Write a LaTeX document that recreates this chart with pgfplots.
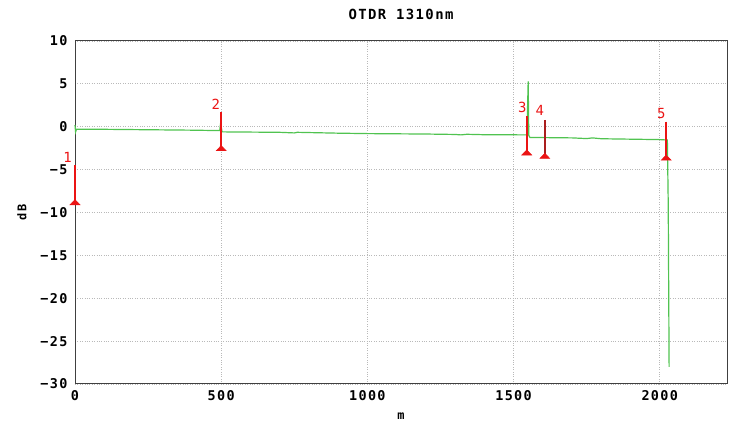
\documentclass[border=0pt]{standalone}
\usepackage{fontspec}
\setmainfont{DejaVu Sans Mono}[LetterSpace=10]
\usepackage{pgfplots}
\pgfplotsset{compat=1.18}
\definecolor{trace}{RGB}{80,195,80}
\definecolor{mk}{RGB}{235,20,20}
\definecolor{mkd}{RGB}{170,30,30}
\begin{document}
\begin{tikzpicture}
\begin{axis}[name=ax, scale only axis, width=652bp, height=343bp,
  xmin=0, xmax=2230, ymin=-30, ymax=10,
  xtick={0,500,1000,1500,2000}, ytick={-30,-25,...,10},
  yticklabels={−30,−25,−20,−15,−10,−5,0,5,10},
  /pgf/number format/assume math mode=true,
  /pgf/number format/1000 sep={},
  grid=major, grid style={gray!55, dotted, line width=0.9pt},
  axis line style={black!75, line width=1pt},
  major tick length=0pt,
  tick label style={font=\fontsize{13.5}{13.5}\selectfont\bfseries},
  xticklabel style={yshift=-3bp},
  yticklabel style={xshift=-4bp},
  title={OTDR 1310nm},
  title style={at={(0.5,1)}, anchor=center, yshift=21bp, font=\fontsize{14}{14}\selectfont\bfseries},
  xlabel={m}, ylabel={dB},
  xlabel style={at={(0.5,0)}, anchor=center, yshift=-32bp, font=\fontsize{12}{12}\selectfont\bfseries},
  ylabel style={at={(0,0.5)}, anchor=center, yshift=53bp, font=\fontsize{12}{12}\selectfont\bfseries},
  clip=false,
]
% trace
\addplot[trace, line width=1.2pt, mark=none] coordinates {
(0,0.2) (2,-0.6) (5,-0.3) (100,-0.3) (250,-0.35) (400,-0.4) (495,-0.45)
(498,0.4) (503,-0.6) (510,-0.6) (700,-0.65) (750,-0.72) (760,-0.65) (900,-0.75)
(1000,-0.8) (1200,-0.85) (1300,-0.9) (1320,-0.95) (1340,-0.88) (1400,-0.93) (1545,-0.95)
(1547,1.0) (1550,5.3) (1552,-1.0) (1556,-1.25) (1700,-1.3) (1750,-1.38) (1770,-1.3) (1800,-1.4)
(2000,-1.5) (2026,-1.55) (2029,-9) (2032,-28)
};
% markers
\addplot[mk, line width=1.8pt] coordinates {(0,-4.5) (0,-8.8)};
\addplot[mk, fill=mk, line width=0.5pt] coordinates {(-17,-9.1) (0,-8.5) (17,-9.1)} -- cycle;
\addplot[mk, line width=1.8pt] coordinates {(500,1.7) (500,-2.5)};
\addplot[mk, fill=mk, line width=0.5pt] coordinates {(483,-2.8) (500,-2.2) (517,-2.8)} -- cycle;
\addplot[mk, line width=1.8pt] coordinates {(1545,1.2) (1545,-3.0)};
\addplot[mk, fill=mk, line width=0.5pt] coordinates {(1528,-3.3) (1545,-2.7) (1562,-3.3)} -- cycle;
\addplot[mkd, line width=1.8pt] coordinates {(1607,0.8) (1607,-3.4)};
\addplot[mk, fill=mk, line width=0.5pt] coordinates {(1590,-3.7) (1607,-3.1) (1624,-3.7)} -- cycle;
\addplot[mk, line width=1.8pt] coordinates {(2022,0.6) (2022,-3.6)};
\addplot[mk, fill=mk, line width=0.5pt] coordinates {(2005,-3.9) (2022,-3.3) (2039,-3.9)} -- cycle;
% labels
\begin{scope}[every node/.style={text=mk, font=\fontsize{14}{14}\selectfont}]
\node at (axis cs:-25,-3.6) {1};
\node at (axis cs:482,2.6) {2};
\node at (axis cs:1530,2.2) {3};
\node at (axis cs:1590,1.9) {4};
\node at (axis cs:2005,1.6) {5};
\end{scope}
\end{axis}
\pgfresetboundingbox
\path ([shift={(-75bp,-40bp)}]ax.south west) rectangle ([shift={(17bp,41bp)}]ax.north east);
\end{tikzpicture}
\end{document}
